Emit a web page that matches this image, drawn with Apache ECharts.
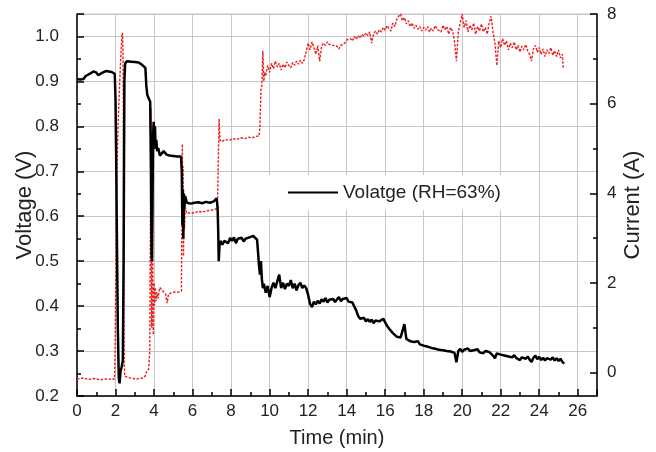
<!DOCTYPE html>
<html>
<head>
<meta charset="utf-8">
<script src="https://cdn.jsdelivr.net/npm/echarts@6/dist/echarts.min.js"></script>
<style>html,body{margin:0;padding:0;background:#fff}#c{width:656px;height:452px}</style>
</head>
<body>
<div id="c"></div>
<script>
// Voltage (black) — time in minutes
const timeV = [0,0.2,0.35,0.45,0.55,0.7,0.85,1.0,1.1,1.2,1.35,1.5,1.65,1.8,1.9,1.96,2.0,2.04,2.08,2.12,2.17,2.21,2.26,2.32,2.38,2.42,2.46,2.5,2.6,2.8,3.0,3.2,3.35,3.45,3.55,3.6,3.65,3.75,3.8,3.84,3.87,3.89,3.92,3.95,3.98,4.02,4.05,4.08,4.12,4.16,4.22,4.3,4.4,4.5,4.58,4.65,4.8,5.0,5.2,5.4,5.44,5.47,5.5,5.52,5.55,5.58,5.62,5.7,5.9,6.1,6.3,6.5,6.7,6.9,7.1,7.2,7.25,7.3,7.33,7.36,7.4,7.45,7.55,7.65,7.75,7.85,7.95,8.05,8.15,8.25,8.35,8.45,8.55,8.65,8.75,8.85,8.95,9.05,9.15,9.25,9.35,9.4,9.45,9.5,9.55,9.6,9.65,
9.7,9.8,9.9,10.0,10.1,10.2,10.3,10.4,10.5,10.6,10.7,10.8,10.9,11.0,11.1,11.2,11.3,11.4,11.5,11.6,11.7,11.8,11.9,12.0,12.1,12.2,12.3,12.4,12.5,12.6,12.7,12.8,12.9,13.0,13.1,13.2,13.3,13.4,13.5,13.6,13.7,13.8,13.9,14.0,14.1,14.2,14.3,14.4,14.5,14.6,14.7,14.8,14.9,15.0,15.1,15.2,15.3,15.4,15.5,15.6,15.7,15.8,15.9,16.0,16.1,16.2,16.3,16.4,16.5,16.6,16.7,16.8,16.9,17.0,17.1,17.2,17.3,17.4,17.5,17.6,17.7,17.8,17.9,18.0,18.1,18.2,18.3,18.4,18.5,18.6,18.7,18.8,18.9,19.0,19.1,19.2,19.3,19.4,19.5,19.6,19.7,19.8,19.9,20.0,20.1,20.2,20.3,20.4,20.5,20.6,20.7,20.8,20.9,21.0,21.1,21.2,21.3,21.4,21.5,21.6,21.7,21.8,21.9,22.0,22.1,22.2,22.3,22.4,22.5,22.6,22.7,22.8,22.9,23.0,23.1,23.2,23.3,23.4,23.5,23.6,23.7,23.8,23.9,24.0,24.1,24.2,24.3,24.4,24.5,24.6,24.7,24.8,24.9,25.0,25.1,25.2,25.3];
const voltage = [0.905,0.904,0.906,0.912,0.910,0.918,0.922,0.920,0.914,0.913,0.920,0.923,0.922,0.921,0.920,0.917,0.86,0.70,0.52,0.35,0.24,0.228,0.255,0.265,0.28,0.50,0.90,0.940,0.945,0.944,0.943,0.942,0.938,0.936,0.930,0.890,0.870,0.868,0.855,0.70,0.52,0.50,0.62,0.78,0.81,0.78,0.80,0.75,0.77,0.745,0.752,0.735,0.733,0.745,0.748,0.737,0.735,0.734,0.733,0.733,0.70,0.58,0.66,0.55,0.65,0.62,0.645,0.630,0.628,0.630,0.631,0.629,0.632,0.630,0.633,0.636,0.640,0.62,0.57,0.50,0.535,0.545,0.537,0.545,0.548,0.540,0.552,0.545,0.553,0.540,0.550,0.546,0.552,0.544,0.550,0.547,0.553,0.552,0.556,0.553,0.548,0.52,0.49,0.47,0.50,0.46,0.44,
0.45,0.43,0.445,0.42,0.44,0.452,0.44,0.455,0.47,0.44,0.452,0.438,0.45,0.445,0.458,0.44,0.45,0.435,0.447,0.452,0.44,0.446,0.44,0.425,0.405,0.398,0.41,0.404,0.412,0.406,0.415,0.41,0.418,0.408,0.414,0.41,0.416,0.409,0.415,0.42,0.411,0.416,0.412,0.418,0.41,0.414,0.408,0.405,0.39,0.378,0.372,0.368,0.374,0.366,0.371,0.365,0.37,0.362,0.368,0.372,0.366,0.37,0.372,0.364,0.356,0.35,0.345,0.34,0.336,0.332,0.335,0.33,0.328,0.36,0.327,0.325,0.322,0.326,0.32,0.318,0.322,0.315,0.318,0.312,0.315,0.31,0.313,0.307,0.311,0.305,0.309,0.303,0.307,0.302,0.306,0.30,0.304,0.299,0.303,0.296,0.275,0.30,0.305,0.298,0.303,0.299,0.306,0.30,0.296,0.302,0.298,0.304,0.297,0.301,0.295,0.30,0.304,0.298,0.302,0.29,0.284,0.295,0.299,0.292,0.296,0.29,0.294,0.288,0.292,0.286,0.291,0.285,0.289,0.28,0.286,0.29,0.283,0.288,0.281,0.276,0.285,0.29,0.282,0.287,0.28,0.285,0.279,0.284,0.288,0.281,0.286,0.279,0.284,0.278,0.283,0.276,0.272];

// Current (red) — time in minutes
const timeI = [0,0.3,0.6,0.9,1.2,1.5,1.8,1.95,1.98,2.01,2.04,2.08,2.13,2.2,2.27,2.33,2.36,2.39,2.41,2.43,2.45,2.48,2.55,2.8,3.1,3.4,3.55,3.62,3.72,3.78,3.81,3.84,3.86,3.88,3.9,3.92,3.94,3.96,3.98,4.0,4.03,4.06,4.1,4.15,4.2,4.3,4.4,4.5,4.6,4.68,4.75,4.9,5.1,5.3,5.42,5.45,5.47,5.49,5.51,5.53,5.55,5.58,5.62,5.7,5.9,6.1,6.3,6.5,6.7,6.9,7.1,7.25,7.3,7.34,7.38,7.42,7.5,7.7,7.9,8.1,8.3,8.5,8.7,8.9,9.1,9.3,9.45,9.5,9.55,9.6,9.65,9.7,9.75,
9.8,9.9,10.0,10.1,10.2,10.3,10.4,10.5,10.6,10.7,10.8,10.9,11.0,11.1,11.2,11.3,11.4,11.5,11.6,11.7,11.8,11.9,12.0,12.1,12.2,12.3,12.4,12.5,12.6,12.7,12.8,12.9,13.0,13.1,13.2,13.3,13.4,13.5,13.6,13.7,13.8,13.9,14.0,14.1,14.2,14.3,14.4,14.5,14.6,14.7,14.8,14.9,15.0,15.1,15.2,15.3,15.4,15.5,15.6,15.7,15.8,15.9,16.0,16.1,16.2,16.3,16.4,16.5,16.6,16.7,16.8,16.9,17.0,17.1,17.2,17.3,17.4,17.5,17.6,17.7,17.8,17.9,18.0,18.1,18.2,18.3,18.4,18.5,18.6,18.7,18.8,18.9,19.0,19.1,19.2,19.3,19.4,19.5,19.6,19.7,19.8,19.9,20.0,20.1,20.2,20.3,20.4,20.5,20.6,20.7,20.8,20.9,21.0,21.1,21.2,21.3,21.4,21.5,21.6,21.7,21.8,21.9,22.0,22.1,22.2,22.3,22.4,22.5,22.6,22.7,22.8,22.9,23.0,23.1,23.2,23.3,23.4,23.5,23.6,23.7,23.8,23.9,24.0,24.1,24.2,24.3,24.4,24.5,24.6,24.7,24.8,24.9,25.0,25.1,25.2,25.25];
const current = [-0.14,-0.12,-0.15,-0.13,-0.16,-0.14,-0.15,-0.14,0.5,2.0,3.5,4.6,5.5,6.3,7.0,7.5,7.58,7.2,5.0,2.0,0.2,-0.08,-0.12,-0.12,-0.14,-0.12,-0.07,0.03,0.08,0.5,3.0,5.9,4.0,1.0,3.5,5.0,2.2,0.85,1.6,2.0,1.5,1.9,1.6,1.8,1.65,1.9,1.85,1.8,1.75,1.55,1.75,1.78,1.8,1.8,1.82,3.5,5.1,3.0,4.6,2.6,4.0,3.2,3.7,3.55,3.57,3.56,3.6,3.58,3.61,3.62,3.63,3.66,3.9,4.8,5.66,5.2,5.15,5.2,5.18,5.22,5.2,5.24,5.22,5.25,5.24,5.27,5.28,5.5,6.3,6.4,7.18,6.5,6.7,
6.62,6.85,6.7,6.9,6.78,6.95,6.82,6.9,6.75,6.88,6.8,6.93,6.85,6.8,6.92,6.86,6.95,6.88,6.97,6.9,6.98,6.94,7.35,7.2,7.38,7.25,7.1,7.3,6.95,7.28,7.35,7.3,7.38,7.32,7.36,7.3,7.34,7.28,7.22,7.3,7.26,7.35,7.42,7.38,7.45,7.4,7.5,7.44,7.52,7.46,7.55,7.5,7.58,7.52,7.6,7.35,7.56,7.62,7.55,7.65,7.6,7.7,7.64,7.74,7.68,7.62,7.8,7.72,7.88,7.95,8.0,7.85,7.92,7.78,7.85,7.72,7.8,7.68,7.75,7.66,7.72,7.62,7.7,7.64,7.72,7.6,7.68,7.62,7.74,7.66,7.7,7.6,7.75,7.65,7.72,7.55,7.7,7.62,7.4,6.95,7.6,7.8,8.0,7.7,7.85,7.6,7.75,7.65,7.8,7.55,7.72,7.62,7.78,7.6,7.7,7.55,7.8,7.95,7.6,7.35,6.85,7.4,7.25,7.45,7.3,7.4,7.2,7.35,7.25,7.38,7.2,7.3,7.15,7.28,7.2,7.32,7.18,7.1,6.95,7.22,7.3,7.15,7.25,7.1,7.22,7.05,7.2,7.12,7.25,7.08,7.18,7.05,7.2,7.02,7.1,6.78];

const xTickLabels = [0,2,4,6,8,10,12,14,16,18,20,22,24,26];
const vTickLabels = [0.2,0.3,0.4,0.5,0.6,0.7,0.8,0.9,1.0];
const iTickLabels = [0,2,4,6,8];
const iMinorTicks = [1,3,5,7];

const voltPts = timeV.map((t, k) => [t, voltage[k]]);
const currPts = timeI.map((t, k) => [t, current[k]]);

const FONT = 'Liberation Sans, Arial, Helvetica, sans-serif';
const GRID = '#c6c6c6';
const AX = {color: '#000', width: 1.5};

const chart = echarts.init(document.getElementById('c'), null, {renderer: 'canvas'});
chart.setOption({
  animation: false,
  backgroundColor: '#fff',
  textStyle: {fontFamily: FONT},
  grid: {left: 77, right: 59, top: 14, bottom: 56, containLabel: false, outerBoundsMode: 'none',
         show: true, borderColor: GRID, borderWidth: 1, backgroundColor: 'transparent'},
  legend: {
    data: [{name: 'Volatge (RH=63%)', icon: 'rect'}],
    left: 262, top: 175,
    backgroundColor: '#fff',
    padding: [8, 10, 8, 26],
    itemWidth: 50, itemHeight: 2,
    itemStyle: {color: '#000', borderWidth: 0},
    textStyle: {fontSize: 19, color: '#222', fontFamily: FONT}
  },
  xAxis: [
    {
      type: 'value', min: 0, max: 27, interval: 2, position: 'bottom',
      name: 'Time (min)', nameLocation: 'middle', nameGap: 32,
      nameTextStyle: {fontSize: 20, color: '#222'},
      axisLine: {show: true, onZero: false, lineStyle: AX},
      axisTick: {inside: true, length: 7, lineStyle: AX},
      axisLabel: {fontSize: 17, color: '#222', margin: 7,
        formatter: v => xTickLabels.indexOf(v) >= 0 ? String(v) : ''},
      splitLine: {show: true, lineStyle: {color: GRID, width: 1}}
    },
    {
      type: 'value', min: 0, max: 27, interval: 1, position: 'bottom',
      axisLine: {show: false, onZero: false},
      axisTick: {inside: true, length: 4, lineStyle: AX},
      axisLabel: {show: false}, splitLine: {show: false}
    }
  ],
  yAxis: [
    {
      type: 'value', min: 0.2, max: 1.05, interval: 0.1, position: 'left',
      name: 'Voltage (V)', nameLocation: 'middle', nameGap: 41, nameRotate: 90, nameMoveOverlap: false,
      nameTextStyle: {fontSize: 22, color: '#222'},
      axisLine: {show: true, onZero: false, lineStyle: AX},
      axisTick: {inside: true, length: 7, lineStyle: AX},
      axisLabel: {fontSize: 17, color: '#222', margin: 18,
        formatter: v => vTickLabels.some(t => Math.abs(t - v) < 1e-6) ? v.toFixed(1) : ''},
      splitLine: {show: true, lineStyle: {color: GRID, width: 1}}
    },
    {
      type: 'value', min: -0.52, max: 8, position: 'right',
      name: 'Current (A)', nameLocation: 'middle', nameGap: 25, nameRotate: 90, nameMoveOverlap: false,
      nameTextStyle: {fontSize: 22, color: '#222'},
      axisLine: {show: true, onZero: false, lineStyle: AX},
      axisTick: {inside: true, length: 7, lineStyle: AX, customValues: iTickLabels},
      axisLabel: {fontSize: 17, color: '#222', margin: 10, customValues: iTickLabels},
      splitLine: {show: false}
    },
    {
      type: 'value', min: 0.2, max: 1.05, interval: 0.05, position: 'left',
      axisLine: {show: false, onZero: false},
      axisTick: {inside: true, length: 4, lineStyle: AX},
      axisLabel: {show: false}, splitLine: {show: false}
    },
    {
      type: 'value', min: -0.52, max: 8, position: 'right',
      axisLine: {show: false, onZero: false},
      axisTick: {inside: true, length: 4, lineStyle: AX, customValues: iMinorTicks},
      axisLabel: {show: false, customValues: iMinorTicks}, splitLine: {show: false}
    }
  ],
  series: [
    {
      name: 'Current', type: 'line', xAxisIndex: 0, yAxisIndex: 1, data: currPts,
      symbol: 'none', showSymbol: false, z: 2,
      lineStyle: {color: '#f01c1c', width: 1.4, type: [2.5, 1.5]}
    },
    {
      name: 'Volatge (RH=63%)', type: 'line', xAxisIndex: 0, yAxisIndex: 0, data: voltPts,
      symbol: 'none', showSymbol: false, z: 3,
      itemStyle: {color: '#000'},
      lineStyle: {color: '#000', width: 2.5}
    }
  ]
});
</script>
</body>
</html>
